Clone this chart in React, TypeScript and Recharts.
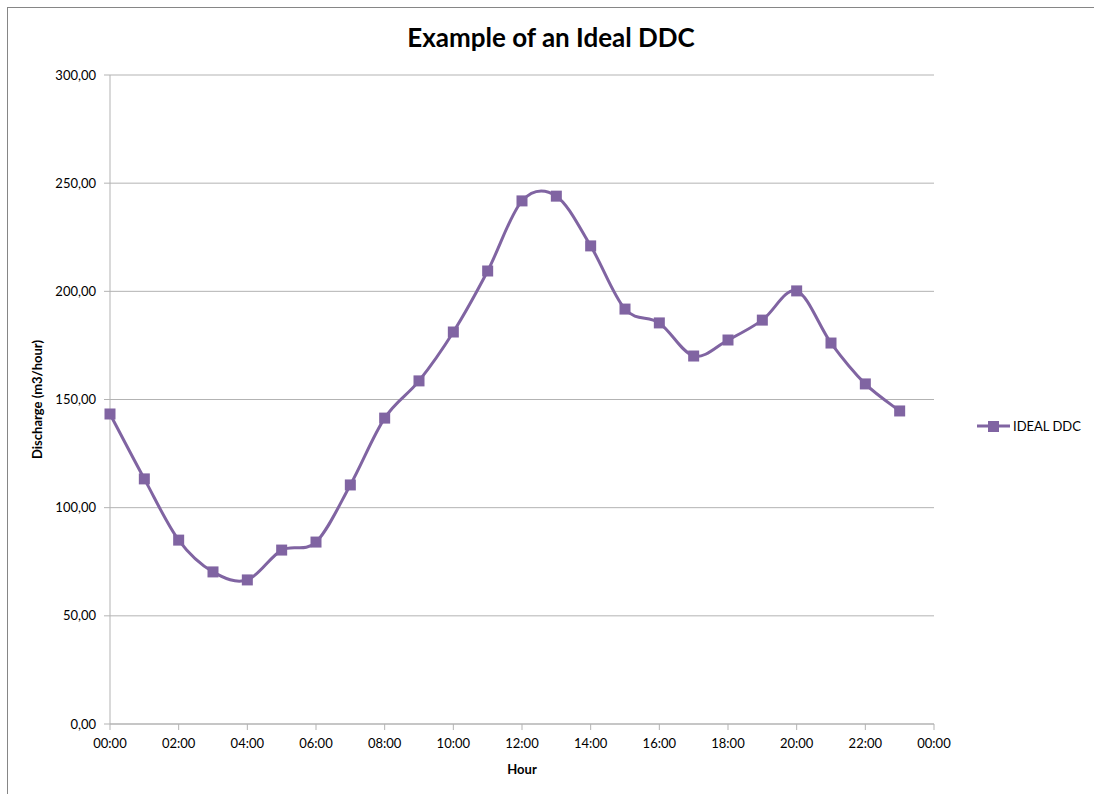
import React from "react";
import { LineChart, Line, XAxis, YAxis, CartesianGrid, Legend, Label } from "recharts";

const hours = [0, 1, 2, 3, 4, 5, 6, 7, 8, 9, 10, 11, 12, 13, 14, 15, 16, 17, 18, 19, 20, 21, 22, 23];
const idealDdc = [143.3, 113.3, 85.0, 70.3, 66.6, 80.4, 84.1, 110.5, 141.4, 158.6, 181.2, 209.4, 241.8, 244.0, 221.0, 191.8, 185.4, 170.1, 177.5, 186.7, 200.2, 176.1, 157.2, 144.7];
const xTicks = [0, 2, 4, 6, 8, 10, 12, 14, 16, 18, 20, 22, 24];
const yTicks = [0, 50, 100, 150, 200, 250, 300];
const seriesName = "IDEAL DDC";
const title = "Example of an Ideal DDC";

const data = hours.map((h, i) => ({ hour: h, value: idealDdc[i] }));

const COLOR = "#8064A2";
const FONT = "Lato, 'Open Sans', sans-serif";

// Catmull-Rom style smoothing similar to Excel's smoothed line
const smoothCurve: any = (context: any) => {
  let pts: number[][] = [];
  return {
    areaStart() {},
    areaEnd() {},
    lineStart() {
      pts = [];
    },
    lineEnd() {
      if (!pts.length) return;
      context.moveTo(pts[0][0], pts[0][1]);
      for (let i = 0; i < pts.length - 1; i++) {
        const p0 = pts[i - 1] || pts[i];
        const p1 = pts[i];
        const p2 = pts[i + 1];
        const p3 = pts[i + 2] || pts[i + 1];
        const c1x = p1[0] + (p2[0] - p0[0]) / 6;
        const c1y = p1[1] + (p2[1] - p0[1]) / 6;
        const c2x = p2[0] - (p3[0] - p1[0]) / 6;
        const c2y = p2[1] - (p3[1] - p1[1]) / 6;
        context.bezierCurveTo(c1x, c1y, c2x, c2y, p2[0], p2[1]);
      }
    },
    point(x: number, y: number) {
      pts.push([+x, +y]);
    },
  };
};

const SquareDot = (props: any) => {
  const { cx, cy, index } = props;
  if (cx == null || cy == null) return <g key={index} />;
  return <rect key={index} x={cx - 5.5} y={cy - 5.5} width={11} height={11} fill={COLOR} />;
};

const fmtHour = (v: number) => `${String(v % 24).padStart(2, "0")}:00`;
const fmtNum = (v: number) => v.toFixed(2).replace(".", ",");

const LegendContent = () => (
  <svg width={120} height={20}>
    <line x1={0} y1={10} x2={33} y2={10} stroke={COLOR} strokeWidth={3} />
    <rect x={11} y={5} width={11} height={11} fill={COLOR} />
    <text x={36} y={15} fontSize={13} fontFamily={FONT} fill="#000">
      {seriesName}
    </text>
  </svg>
);

export default function App() {
  return (
    <div style={{ position: "absolute", left: 0, top: 0, width: 1094, height: 794, background: "#fff", overflow: "hidden" }}>
      <svg style={{ position: "absolute", left: 0, top: 0 }} width={1094} height={794}>
        <rect x={7.5} y={7.5} width={1200} height={900} fill="none" stroke="#868686" strokeWidth={1} />
        <text x={551} y={47} textAnchor="middle" fontFamily={FONT} fontWeight="bold" fontSize={26} fill="#000">
          {title}
        </text>
      </svg>
      <div style={{ position: "absolute", left: 0, top: 0 }}>
        <LineChart width={1094} height={794} data={data} margin={{ top: 75, right: 160, bottom: 40, left: 50 }}>
          <CartesianGrid horizontal={true} vertical={false} stroke="#b3b3b3" strokeWidth={1} />
          <XAxis
            dataKey="hour"
            type="number"
            domain={[0, 24]}
            ticks={xTicks}
            tickFormatter={fmtHour}
            stroke="#b3b3b3"
            tickSize={6}
            tick={{ fill: "#000", fontSize: 13, fontFamily: FONT }}
            tickMargin={9}
            height={30}
            interval={0}
          >
            <Label value="Hour" position="bottom" offset={11} style={{ fontFamily: FONT, fontWeight: "bold", fontSize: 13, fill: "#000" }} />
          </XAxis>
          <YAxis
            type="number"
            domain={[0, 300]}
            ticks={yTicks}
            tickFormatter={fmtNum}
            stroke="#b3b3b3"
            tickSize={6}
            tickMargin={8}
            width={60}
            interval={0}
            tick={{ fill: "#000", fontSize: 13, fontFamily: FONT }}
          >
            <Label
              value="Discharge (m3/hour)"
              angle={-90}
              position="left"
              offset={13}
              style={{ fontFamily: FONT, fontWeight: "bold", fontSize: 13, fill: "#000", textAnchor: "middle" }}
            />
          </YAxis>
          <Legend
            layout="horizontal"
            verticalAlign="middle"
            align="center"
            content={<LegendContent />}
            wrapperStyle={{ position: "absolute", left: 977, top: 416, width: 120 }}
          />
          <Line
            type={smoothCurve}
            dataKey="value"
            name={seriesName}
            stroke={COLOR}
            strokeWidth={3}
            dot={<SquareDot />}
            activeDot={false}
            isAnimationActive={false}
          />
        </LineChart>
      </div>
    </div>
  );
}
